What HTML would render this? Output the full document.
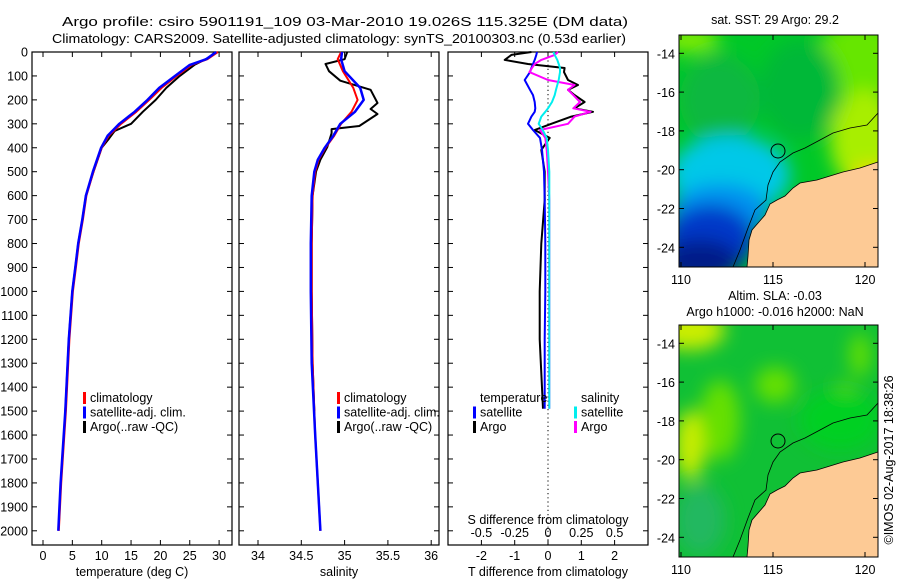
<!DOCTYPE html>
<html><head><meta charset="utf-8">
<style>
body{margin:0;background:#fff;width:900px;height:580px;overflow:hidden;font-family:"Liberation Sans",sans-serif}
svg text{font-family:"Liberation Sans",sans-serif;font-size:12.5px;fill:#000}
</style></head>
<body>
<svg id="c" width="900" height="580">
<text x="345" y="26" text-anchor="middle" font-size="15" textLength="566" lengthAdjust="spacingAndGlyphs">Argo profile: csiro 5901191_109 03-Mar-2010 19.026S 115.325E (DM data)</text>
<text x="339" y="43" text-anchor="middle" font-size="15" textLength="574" lengthAdjust="spacingAndGlyphs">Climatology: CARS2009. Satellite-adjusted climatology: synTS_20100303.nc (0.53d earlier)</text>
<defs>
<filter id="bl" x="-20%" y="-20%" width="140%" height="140%"><feGaussianBlur stdDeviation="9"/></filter>
<clipPath id="m1"><rect x="679" y="35" width="199" height="232"/></clipPath>
<clipPath id="m2"><rect x="679" y="325" width="199" height="232"/></clipPath>
</defs>
<g id="plots"></g>
<!-- top map -->
<g clip-path="url(#m1)">
<rect x="679" y="35" width="199" height="232" fill="#00c828"/>
<g filter="url(#bl)">
<ellipse cx="860" cy="60" rx="45" ry="40" fill="#66e600"/>
<ellipse cx="865" cy="140" rx="35" ry="50" fill="#a8ee00"/>
<ellipse cx="870" cy="180" rx="20" ry="15" fill="#f0d800"/>
<ellipse cx="690" cy="40" rx="30" ry="12" fill="#88ee00"/>
<ellipse cx="720" cy="100" rx="40" ry="45" fill="#10b840"/>
<ellipse cx="730" cy="175" rx="60" ry="40" fill="#00c8e8"/>
<ellipse cx="720" cy="212" rx="50" ry="28" fill="#0090ee"/>
<ellipse cx="710" cy="240" rx="45" ry="35" fill="#0038c8"/>
<ellipse cx="700" cy="262" rx="40" ry="22" fill="#001a88"/>
<ellipse cx="800" cy="90" rx="40" ry="50" fill="#00b838"/>
</g>
<polygon points="878,162 860,168 843,172 830,176 817,180 800,183 793,188 785,196 777,200 770,204 765,215 752,230 749,240 748,256 747,267 878,267" fill="#fdca95" stroke="#000" stroke-width="0.8"/>
<polyline points="878,113 867,125 850,128 833,133 820,140 805,148 793,153 780,162 773,172 768,185 766,200 755,210 748,228 740,250 733,267" fill="none" stroke="#000" stroke-width="0.8"/>
<circle cx="778" cy="151" r="7" fill="none" stroke="#000" stroke-width="1"/>
</g>
<rect x="679" y="35" width="199" height="232" fill="none" stroke="#000"/>
<text x="775" y="24" text-anchor="middle">sat. SST: 29 Argo: 29.2</text>
<!-- bottom map -->
<g clip-path="url(#m2)">
<rect x="679" y="325" width="199" height="232" fill="#10c035"/>
<g filter="url(#bl)">
<ellipse cx="690" cy="330" rx="35" ry="20" fill="#ccee00"/>
<ellipse cx="690" cy="445" rx="15" ry="35" fill="#ccee00"/>
<ellipse cx="720" cy="420" rx="20" ry="40" fill="#66e000"/>
<ellipse cx="775" cy="385" rx="20" ry="18" fill="#66e000"/>
<ellipse cx="845" cy="400" rx="12" ry="18" fill="#66e000"/>
<ellipse cx="860" cy="355" rx="10" ry="22" fill="#66e000"/>
<ellipse cx="840" cy="420" rx="40" ry="30" fill="#00d020"/>
<ellipse cx="700" cy="520" rx="25" ry="35" fill="#20b860"/>
</g>
<polygon points="878,452 860,458 843,462 830,466 817,470 800,473 793,478 785,486 777,490 770,494 765,505 752,520 749,530 748,546 747,557 878,557" fill="#fdca95" stroke="#000" stroke-width="0.8"/>
<polyline points="878,403 867,415 850,418 833,423 820,430 805,438 793,443 780,452 773,462 768,475 766,490 755,500 748,518 740,540 733,557" fill="none" stroke="#000" stroke-width="0.8"/>
<circle cx="778" cy="441" r="7" fill="none" stroke="#000" stroke-width="1"/>
</g>
<rect x="679" y="325" width="199" height="232" fill="none" stroke="#000"/>
<text x="775" y="300" text-anchor="middle">Altim. SLA: -0.03</text>
<text x="775" y="316" text-anchor="middle">Argo h1000: -0.016 h2000: NaN</text>
<text transform="translate(893,460) rotate(-90)" text-anchor="middle">©IMOS 02-Aug-2017 18:38:26</text>
<g id="maxes"></g>
</svg>
<script>
// ---- data ----
const depthTicks=[0,100,200,300,400,500,600,700,800,900,1000,1100,1200,1300,1400,1500,1600,1700,1800,1900,2000];
const tempTicks=[0,5,10,15,20,25,30];
const salTicks=[34,34.5,35,35.5,36];
const tdiffTicks=[-2,-1,0,1,2];
const sdiffTicks=[-0.5,-0.25,0,0.25,0.5];
const sdiffLabels=["-0.5","-0.25","0","0.25","0.5"];
const latTicks=[-14,-16,-18,-20,-22,-24];
const lonTicks=[110,115,120];

const tDepth=[0,30,54,100,150,200,250,300,350,400,500,600,700,800,900,1000,1200,1500,1800,2000];
const tClim=[29.8,28,25.3,22.8,20.2,18.1,15.9,13.3,11.2,10,8.6,7.4,6.8,6.1,5.6,5.1,4.5,3.9,3.1,2.7];
const tSat=[29.5,27.8,25,22.5,19.8,17.8,15.6,13,11,9.9,8.5,7.3,6.7,6.0,5.5,5.0,4.4,3.8,3.0,2.6];
const tArgoDepth=[0,20,54,100,150,200,250,300,330,360,400,500,600,700,800,900,1000,1200,1500];
const tArgo=[29.3,28.5,25.8,23.3,21,19.2,17,15,12.2,11.3,10,8.6,7.3,6.7,6.0,5.5,5.0,4.4,3.8];

const sDepth=[0,30,80,150,200,250,300,350,400,450,500,600,800,1000,1300,1600,2000];
const sSat=[34.97,34.96,35.0,35.18,35.22,35.12,34.95,34.87,34.77,34.69,34.65,34.62,34.61,34.61,34.62,34.66,34.72];
const sClim=[34.96,34.92,34.98,35.1,35.15,35.08,34.96,34.88,34.78,34.7,34.66,34.63,34.62,34.62,34.63,34.66,34.72];
const sArgoDepth=[0,30,50,80,120,158,213,238,259,309,322,339,397,450,500,600,800,1000,1300,1500];
const sArgo=[35.03,35.0,34.78,34.82,34.95,35.3,35.38,35.3,35.38,35.17,34.85,34.85,34.8,34.72,34.67,34.63,34.62,34.62,34.63,34.65];

const dDepth=[0,12,33,50,67,84,117,138,158,180,209,235,250,270,300,326,359,409,500,618,800,1000,1200,1490];
const dTsat=[-0.33,-0.35,-0.4,-0.45,-0.5,-0.54,-0.7,-0.62,-0.54,-0.45,-0.4,-0.38,-0.4,-0.5,-0.6,-0.45,-0.24,-0.18,-0.12,-0.1,-0.08,-0.08,-0.1,-0.1];
const dTargo=[-0.5,-1.1,-1.3,-0.6,0.5,0.48,0.6,0.9,0.6,0.8,1.1,0.8,1.35,0.7,0.1,-0.4,0.05,-0.2,-0.1,-0.1,-0.2,-0.25,-0.25,-0.15];
const dSsat=[0.04,0.05,0.07,0.08,0.09,0.09,0.08,0.07,0.06,0.05,0.03,0.0,-0.02,-0.05,-0.07,-0.04,-0.01,0.0,0.01,0.01,0.01,0.01,0.01,0.01];
const dSargo=[0.075,0.05,-0.05,-0.1,-0.12,-0.14,0.0,0.2,0.15,0.19,0.24,0.19,0.32,0.2,0.15,-0.06,-0.02,-0.01,0.0,0.01,0.01,0.01,0.01,0.01];

// ---- geometry ----
const Y0=52, PY=0.2394;
const yD=d=>Y0+d*PY;
const xT=t=>43+t*5.87;
const xS=s=>258+(s-34)*86.6;
const xDT=v=>548+v*33.3;
const xDS=v=>548+v*133.2;
const xLon=l=>681+(l-110)*18.4;
const yLat=(l,off)=>53.3+(-14-l)*19.4+off;

const NS="http://www.w3.org/2000/svg";
const root=document.getElementById('plots');
function el(tag,attrs,parent,txt){const e=document.createElementNS(NS,tag);for(const k in attrs)e.setAttribute(k,attrs[k]);if(txt!==undefined)e.textContent=txt;(parent||root).appendChild(e);return e;}

const panels=[{x:32,w:200,name:'temperature-panel'},{x:239,w:200,name:'salinity-panel'},{x:448,w:200,name:'difference-panel'}];
panels.forEach(p=>{
  const r=el('rect',{x:p.x,y:52,width:p.w,height:493,fill:'none',stroke:'#000','stroke-width':1.2});
  
  
  depthTicks.forEach(d=>{
    el('line',{x1:p.x,x2:p.x+5,y1:yD(d),y2:yD(d),stroke:'#000'});
    el('line',{x1:p.x+p.w-5,x2:p.x+p.w,y1:yD(d),y2:yD(d),stroke:'#000'});
  });
});
depthTicks.forEach(d=>{
  const t=el('text',{x:28,y:yD(d)+4.5,'text-anchor':'end'},root,String(d));
  
  
});
function xticks(vals,labels,f,ly){
  vals.forEach((v,i)=>{
    el('line',{x1:f(v),x2:f(v),y1:52,y2:57,stroke:'#000'});
    el('line',{x1:f(v),x2:f(v),y1:540,y2:545,stroke:'#000'});
    const t=el('text',{x:f(v),y:ly,'text-anchor':'middle'},root,labels[i]);
    
    
  });
}
xticks(tempTicks,tempTicks.map(String),xT,560);
xticks(salTicks,salTicks.map(String),xS,560);
xticks(tdiffTicks,tdiffTicks.map(String),xDT,560);
sdiffTicks.forEach((v,i)=>{
  const t=el('text',{x:xDS(v),y:537,'text-anchor':'middle'},root,sdiffLabels[i]);
  
  
});
[[132,'temperature (deg C)','temperature-axis-title'],[339,'salinity','salinity-axis-title'],[548,'T difference from climatology','t-diff-axis-title']].forEach(a=>{
  const t=el('text',{x:a[0],y:576,'text-anchor':'middle'},root,a[1]);
  
  
});
const st=el('text',{x:548,y:524,'text-anchor':'middle'},root,'S difference from climatology');


const zl=el('line',{x1:548,x2:548,y1:52,y2:545,stroke:'#000','stroke-dasharray':'1.2,3'});



function line(depths,vals,fx,color,w,name){
  const pts=depths.map((d,i)=>fx(vals[i]).toFixed(1)+','+yD(d).toFixed(1)).join(' ');
  const p=el('polyline',{points:pts,fill:'none',stroke:color,'stroke-width':w,'stroke-linejoin':'round'});
  
  
}
line(tArgoDepth,tArgo,xT,'#000',2,'temp-argo-line');
line(tDepth,tClim,xT,'#f00',2,'temp-clim-line');
line(tDepth,tSat,xT,'#0000ff',2.5,'temp-sat-line');
line(sArgoDepth,sArgo,xS,'#000',2,'sal-argo-line');
line(sDepth,sClim,xS,'#f00',2,'sal-clim-line');
line(sDepth,sSat,xS,'#0000ff',2.5,'sal-sat-line');
line(dDepth,dTargo,xDT,'#000',2,'tdiff-argo-line');
line(dDepth,dTsat,xDT,'#0000ff',2,'tdiff-sat-line');
line(dDepth,dSargo,xDS,'#ff00ff',2,'sdiff-argo-line');
line(dDepth,dSsat,xDS,'#00eeee',2,'sdiff-sat-line');

function legend(x,y,items,prefix){
  items.forEach((it,i)=>{
    const yy=y+i*14.5;
    if(it[1]) el('rect',{x:x,y:yy-10,width:3,height:12,fill:it[1]});
    const t=el('text',{x:x+7,y:yy},root,it[0]);
    
    
  });
}
const lg=[['climatology','#f00'],['satellite-adj. clim.','#0000ff'],['Argo(..raw -QC)','#000']];
legend(83,402,lg,'temp');
legend(337,402,lg,'sal');
legend(473,402,[['temperature',null],['satellite','#0000ff'],['Argo','#000']],'tdiff');
legend(574,402,[['salinity',null],['satellite','#00eeee'],['Argo','#ff00ff']],'sdiff');

// map axes
const mx=document.getElementById('maxes');
[0,290].forEach(off=>{
  latTicks.forEach(l=>{
    const y=yLat(l,off);
    el('line',{x1:679,x2:684,y1:y,y2:y,stroke:'#000'},mx);
    el('line',{x1:873,x2:878,y1:y,y2:y,stroke:'#000'},mx);
    const t=el('text',{x:675,y:y+5,'text-anchor':'end'},mx,String(l));
    
    
  });
  lonTicks.forEach(l=>{
    const x=xLon(l);
    el('line',{x1:x,x2:x,y1:35+off,y2:40+off,stroke:'#000'},mx);
    el('line',{x1:x,x2:x,y1:262+off,y2:267+off,stroke:'#000'},mx);
    const t=el('text',{x:x,y:284+off,'text-anchor':'middle'},mx,String(l));
    
    
  });
});
</script>
</body></html>
